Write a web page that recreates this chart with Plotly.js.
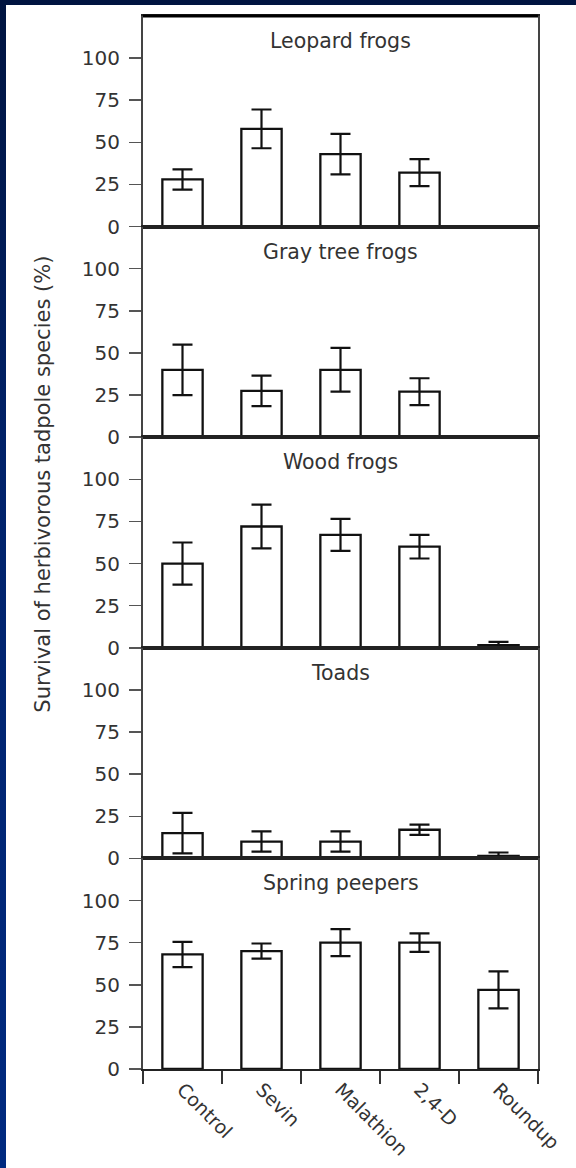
<!DOCTYPE html>
<html>
<head>
<meta charset="utf-8">
<script src="https://cdn.plot.ly/plotly-3.0.1.min.js"></script>
<style>
  html, body { margin: 0; padding: 0; }
  body {
    width: 576px; height: 1168px; overflow: hidden;
    background: linear-gradient(to bottom, #001440 0%, #00226a 40%, #002a80 100%);
    position: relative;
  }
  #chart { position: absolute; left: 6px; top: 5px; width: 570px; height: 1163px; background: #fff; }
</style>
</head>
<body>
<div id="chart"></div>
<script>
// ---- data ----
const categories = ['Control', 'Sevin', 'Malathion', '2,4-D', 'Roundup'];
const species = ['Leopard frogs', 'Gray tree frogs', 'Wood frogs', 'Toads', 'Spring peepers'];

const leopard      = [28, 58, 43, 32, null];
const leopardErr   = [6, 11.5, 12, 8, null];
const grayTree     = [40, 27.5, 40, 27, null];
const grayTreeErr  = [15, 9, 13, 8, null];
const wood         = [50, 72, 67, 60, 1.5];
const woodErr      = [12.5, 13, 9.5, 7, 2];
const toads        = [15, 10, 10, 17, 1.5];
const toadsErr     = [12, 6, 6, 3, 2];
const peepers      = [68, 70, 75, 75, 47];
const peepersErr   = [7.5, 4.5, 8, 5.5, 11];

const yTickVals = [0, 25, 50, 75, 100];
const yTitle = 'Survival of herbivorous tadpole species (%)';

const seriesValues = [leopard, grayTree, wood, toads, peepers];
const seriesErrors = [leopardErr, grayTreeErr, woodErr, toadsErr, peepersErr];

// ---- build ----
const FONT = 'DejaVu Sans, Arial, sans-serif';
const TXT = '#333333';
const n = species.length;
const traces = [];
const layout = {
  width: 570, height: 1163,
  margin: { l: 137, r: 38, t: 11, b: 99 },
  paper_bgcolor: '#ffffff',
  plot_bgcolor: '#ffffff',
  showlegend: false,
  bargap: 0.49,
  font: { family: FONT, size: 20, color: TXT },
  annotations: [],
  shapes: []
};

for (let i = 0; i < n; i++) {
  const sfx = i === 0 ? '' : String(i + 1);
  traces.push({
    type: 'bar',
    x: categories,
    y: seriesValues[i],
    xaxis: 'x' + sfx,
    yaxis: 'y' + sfx,
    marker: { color: '#ffffff', line: { color: '#111111', width: 2.3 } },
    error_y: { type: 'data', array: seriesErrors[i], visible: true, color: '#111111', thickness: 2.2, width: 10 },
    hoverinfo: 'skip'
  });
  const top = 1 - i / n, bottom = 1 - (i + 1) / n;
  const isBottom = i === n - 1;
  layout['xaxis' + sfx] = {
    type: 'category',
    categoryorder: 'array',
    categoryarray: categories,
    range: [-0.5, 4.5],
    anchor: 'y' + sfx,
    showline: true, linecolor: '#222222', linewidth: 2, mirror: true,
    showgrid: false, zeroline: false,
    ticks: isBottom ? 'outside' : '',
    tickson: 'boundaries',
    ticklen: 13, tickwidth: 2, tickcolor: '#333333',
    showticklabels: isBottom,
    tickangle: 45,
    ticklabelstandoff: 0,
    tickfont: { family: FONT, size: 19, color: TXT },
    fixedrange: true
  };
  if (i > 0) layout['xaxis' + sfx].matches = 'x';
  layout['yaxis' + sfx] = {
    domain: [bottom, top],
    range: [0, 125],
    anchor: 'x' + sfx,
    tickvals: yTickVals,
    ticks: 'outside', ticklen: 12, tickwidth: 1.5, tickcolor: '#555555',
    ticklabelstandoff: 5,
    showline: true, linecolor: '#444444', linewidth: 2, mirror: true,
    showgrid: false, zeroline: false,
    tickfont: { family: FONT, size: 20, color: TXT },
    fixedrange: true
  };
  layout.annotations.push({
    text: species[i],
    xref: 'paper', x: 0.5, xanchor: 'center',
    yref: 'y' + sfx + ' domain', y: 1, yanchor: 'middle', yshift: -25,
    showarrow: false,
    font: { family: FONT, size: 20.5, color: TXT }
  });
}

layout.annotations.push({
  text: yTitle,
  textangle: -90,
  xref: 'paper', x: -0.253, xanchor: 'center',
  yref: 'paper', y: 0.555, yanchor: 'middle',
  showarrow: false,
  font: { family: FONT, size: 21, color: TXT }
});

// thick top frame line
layout.shapes.push({
  type: 'line', xref: 'paper', yref: 'paper',
  x0: 0, x1: 1, y0: 1, y1: 1,
  line: { color: '#000000', width: 3 }
});

Plotly.newPlot('chart', traces, layout, { displayModeBar: false, staticPlot: true });
</script>
</body>
</html>
